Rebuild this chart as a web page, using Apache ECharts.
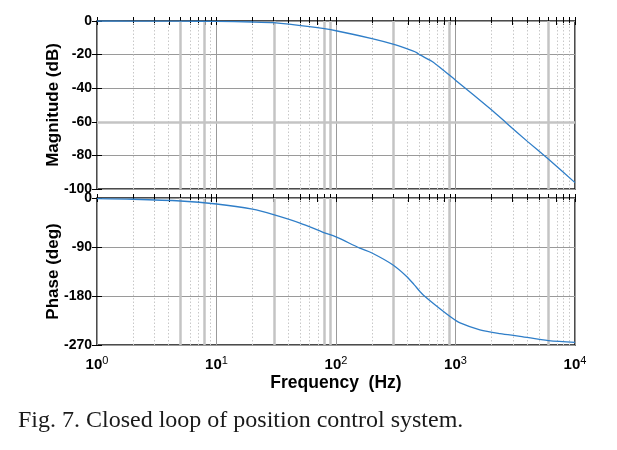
<!DOCTYPE html>
<html>
<head>
<meta charset="utf-8">
<script src="https://cdn.jsdelivr.net/npm/echarts@6/dist/echarts.min.js"></script>
<style>
  html, body { margin: 0; padding: 0; background: #fff; }
  #chart { width: 617px; height: 450px; }
</style>
</head>
<body>
<div id="chart"></div>
<script>
// magnitude trace (Hz, dB)
const magFreq = [1, 2, 5, 10, 20, 30, 60, 100, 200, 300, 390, 473, 505, 652, 1000, 2009, 2648, 4018, 5980, 10000];
const magDb   = [0, -0.02, -0.1, -0.25, -0.6, -1.0, -3.4, -5.8, -10.5, -13.8, -16.5, -18.8, -20.2, -24.5, -35.2, -53, -60.5, -71.8, -82.2, -96.2];

// phase trace (Hz, deg)
const phaseFreq = [1, 2, 5, 10, 20, 30, 50, 78, 100, 158, 200, 300, 390, 450, 505, 537, 673, 900, 1092, 1600, 2356, 3467, 6000, 10000];
const phaseDeg  = [-1.2, -2.3, -5.5, -11, -20.5, -30.5, -46, -63, -71.5, -92, -101, -123, -144, -159, -172, -178, -196, -217.5, -229.5, -242, -249, -254, -262, -265];

const decades = [0, 1, 2, 3, 4];
const magTicks = [0, -20, -40, -60, -80, -100];
const phaseTicks = [0, -90, -180, -270];
// grid lines that came out darker in the scan
const darkFreq = [5, 8, 30, 80, 90, 300, 900, 6000];

const minorVals = [];
decades.slice(0, 4).forEach(d => {
  for (let k = 2; k <= 9; k++) minorVals.push(Math.log10(k * Math.pow(10, d)));
});
const allTicks = decades.concat(minorVals);

const font = 'Liberation Sans, Arial, sans-serif';

function toXY(fs, vs) {
  return fs.map((f, i) => [Math.log10(f), vs[i]]);
}

function gridMarks(extraY) {
  const data = minorVals.map(v => ({ xAxis: v, lineStyle: { color: '#c8c8c8', type: [1.5, 2], width: 1 } }));
  darkFreq.forEach(f => data.push({ xAxis: Math.log10(f), lineStyle: { color: '#c4c4c4', type: 'solid', width: 2.5 } }));
  extraY.forEach(y => data.push({ yAxis: y, lineStyle: { color: '#c4c4c4', type: 'solid', width: 2.5 } }));
  return { silent: true, symbol: 'none', label: { show: false }, animation: false, data: data };
}

function xAxes(g, withLabels) {
  return [
    {
      gridIndex: g, type: 'value', min: 0, max: 4, interval: 1, position: 'bottom',
      axisLine: { show: false }, axisTick: { show: false },
      axisLabel: {
        show: withLabels, margin: 10,
        formatter: v => '{b|10}{s|' + v + '}',
        rich: {
          b: { fontFamily: font, fontSize: 15, fontWeight: 'bold', color: '#000' },
          s: { fontFamily: font, fontSize: 11, color: '#000', padding: [0, 0, 9, 0] }
        }
      },
      splitLine: { show: true, lineStyle: { color: '#9a9a9a', width: 1 } },
      name: withLabels ? 'Frequency  (Hz)' : '', nameLocation: 'middle', nameGap: 29,
      nameTextStyle: { fontFamily: font, fontSize: 17.5, fontWeight: 'bold', color: '#000' }
    },
    {
      gridIndex: g, type: 'value', min: 0, max: 4, position: 'bottom',
      axisLine: { show: false }, axisLabel: { show: false }, splitLine: { show: false },
      axisTick: { show: true, inside: true, length: 4, customValues: allTicks, lineStyle: { color: '#000' } }
    },
    {
      gridIndex: g, type: 'value', min: 0, max: 4, position: 'top',
      axisLine: { show: false }, axisLabel: { show: false }, splitLine: { show: false },
      axisTick: { show: true, inside: true, length: 4, customValues: allTicks, lineStyle: { color: '#000' } }
    }
  ];
}

function yAxes(g, ticks, name) {
  const lo = ticks[ticks.length - 1], step = ticks[0] - ticks[1];
  const base = {
    gridIndex: g, type: 'value', min: lo, max: 0, interval: step,
    axisLine: { show: false }
  };
  return [
    Object.assign({}, base, {
      position: 'left',
      axisTick: { show: true, inside: true, length: 5, lineStyle: { color: '#000' } },
      axisLabel: { fontFamily: font, fontSize: 14, fontWeight: 'bold', color: '#000', margin: 5 },
      splitLine: { show: true, lineStyle: { color: '#9a9a9a', width: 1 } },
      name: name, nameLocation: 'middle', nameGap: 35, nameMoveOverlap: false,
      nameTextStyle: { fontFamily: font, fontSize: 17, fontWeight: 'bold', color: '#000' }
    }),
    Object.assign({}, base, {
      position: 'right',
      axisTick: { show: true, inside: true, length: 5, lineStyle: { color: '#000' } },
      axisLabel: { show: false }, splitLine: { show: false }
    })
  ];
}

const chart = echarts.init(document.getElementById('chart'), null, { renderer: 'canvas' });

const gridStyle = { show: true, borderColor: '#111', borderWidth: 1.5, backgroundColor: '#fff' };

chart.setOption({
  animation: false,
  backgroundColor: '#fff',
  title: {
    text: 'Fig. 7. Closed loop of position control system.',
    left: 13, top: 404,
    textStyle: { fontFamily: 'Liberation Serif, Times New Roman, serif', fontSize: 24, fontWeight: 'normal', color: '#1a1a1a' }
  },
  grid: [
    Object.assign({ left: 97, top: 21, width: 478, height: 168 }, gridStyle),
    Object.assign({ left: 97, top: 198, width: 478, height: 147 }, gridStyle)
  ],
  xAxis: xAxes(0, false).concat(xAxes(1, true)),
  yAxis: yAxes(0, magTicks, 'Magnitude (dB)').concat(yAxes(1, phaseTicks, 'Phase (deg)')),
  series: [
    {
      name: 'Magnitude', type: 'line', xAxisIndex: 0, yAxisIndex: 0,
      data: toXY(magFreq, magDb), smooth: 0.2, showSymbol: false,
      lineStyle: { color: '#2f7ec8', width: 1.3 },
      markLine: gridMarks([-60]), z: 5
    },
    {
      name: 'Phase', type: 'line', xAxisIndex: 3, yAxisIndex: 2,
      data: toXY(phaseFreq, phaseDeg), smooth: 0.3, showSymbol: false,
      lineStyle: { color: '#2f7ec8', width: 1.3 },
      markLine: gridMarks([]), z: 5
    }
  ]
});
</script>
</body>
</html>
